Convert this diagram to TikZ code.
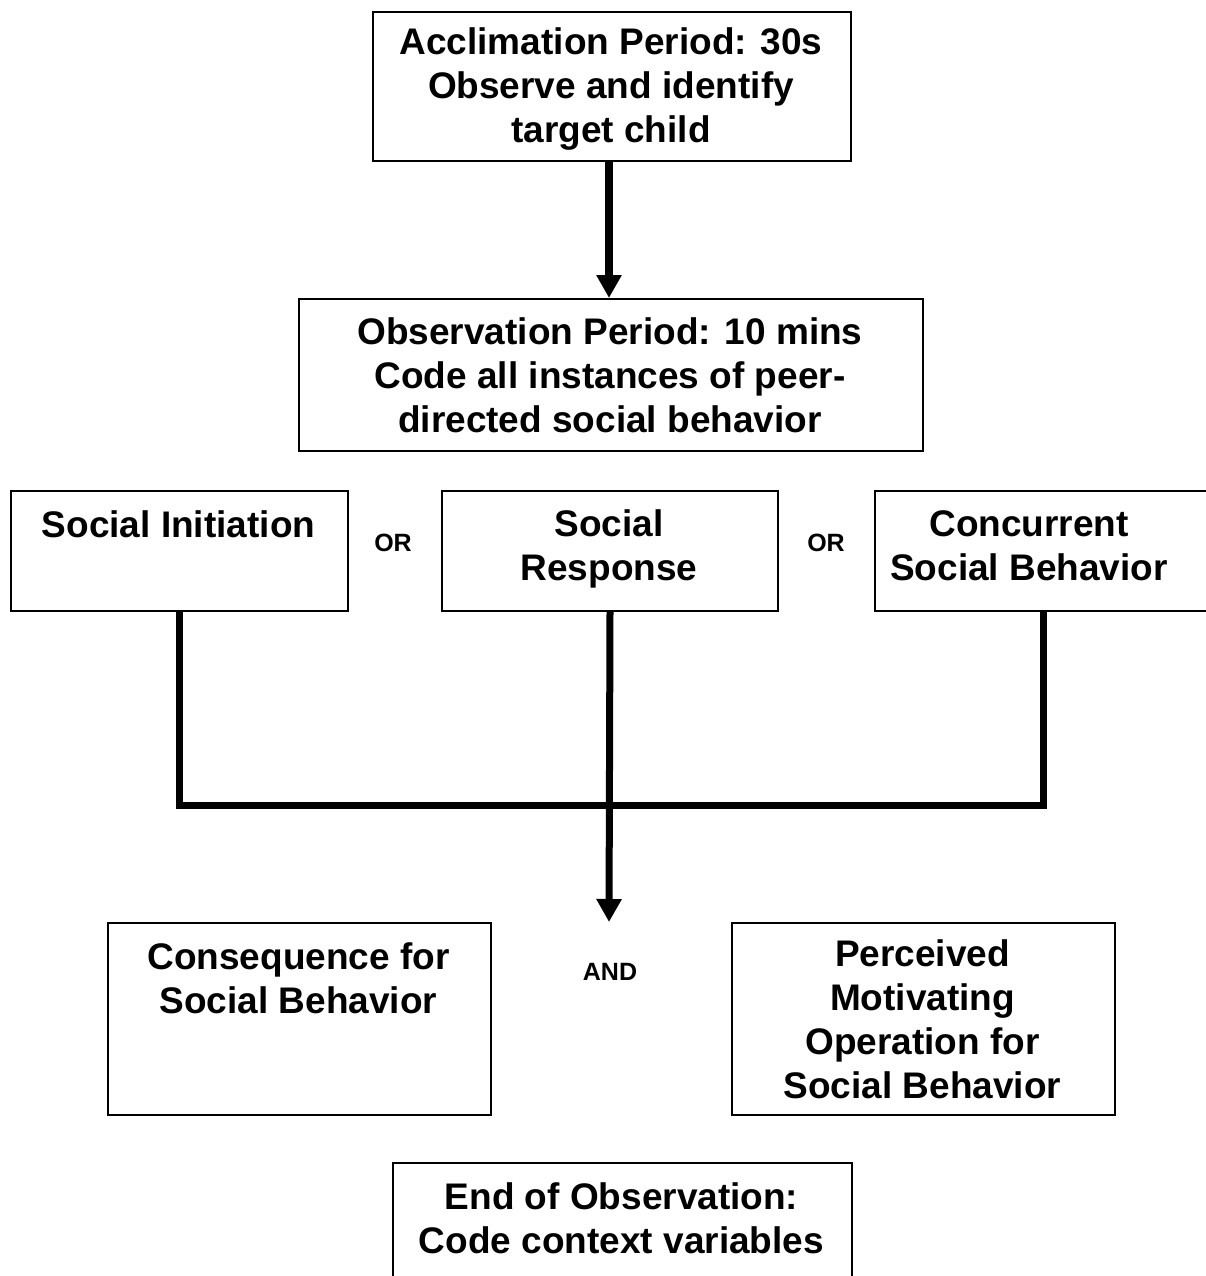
\documentclass[tikz,border=0pt]{standalone}
\usepackage{fontspec}
\setmainfont{Liberation Sans}
\usetikzlibrary{arrows.meta}
\begin{document}
\begin{tikzpicture}[x=1pt,y=-1pt,
  box/.style={draw, line width=2pt, inner sep=0pt, anchor=north west},
  txt/.style={align=center, inner sep=0pt, anchor=base, font=\fontsize{37}{44}\selectfont\bfseries},
  small/.style={inner sep=0pt, font=\fontsize{25}{30}\selectfont\bfseries},
  conn/.style={line width=7pt, line join=miter},
  arr/.style={-{Triangle[width=24pt,length=23pt]}}]
\useasboundingbox (0,0) rectangle (1206,1276);
% boxes
\node[box, minimum width=478pt, minimum height=149pt] (acc) at (372,11) {};
\node[box, minimum width=624pt, minimum height=152pt] (obs) at (298,298) {};
\node[box, minimum width=337pt, minimum height=120pt] (si) at (10,490) {};
\node[box, minimum width=336pt, minimum height=120pt] (sr) at (441,490) {};
\node[box, minimum width=338pt, minimum height=120pt] (csb) at (874,490) {};
\node[box, minimum width=383pt, minimum height=192pt] (cons) at (107,922) {};
\node[box, minimum width=383pt, minimum height=192pt] (perc) at (731,922) {};
\node[box, minimum width=459pt, minimum height=140pt] (endb) at (392,1162) {};
% texts (anchored at the baseline of their last line)
\node[txt] (acct) at (611,143) {Acclimation Period: 30s\\Observe and identify\\target child};
\node[txt] (obst) at (610,432) {Observation Period: 10 mins\\Code all instances of peer-\\directed social behavior};
\node[txt] (sit) at (178.5,537) {Social Initiation};
\node[txt] (srt) at (609,580) {Social\\Response};
\node[txt] (csbt) at (1029,580) {Concurrent\\Social Behavior};
\node[txt] (const) at (298.5,1013) {Consequence for\\Social Behavior};
\node[txt] (perct) at (922.5,1098) {Perceived\\Motivating\\Operation for\\Social Behavior};
\node[txt] (endt) at (621.5,1253) {End of Observation:\\Code context variables};
\node[small] (or1) at (393,543) {OR};
\node[small] (or2) at (826,543) {OR};
\node[small] (and) at (610,972) {AND};
% connectors
\draw[line width=8pt, arr] (acc.south -| 609,0) -- (obs.north -| 609,0);
\coordinate (bar) at (609,805);
\coordinate (join) at (609,922);
\draw[conn] (si.south) |- (bar) -| (csb.south -| 1043,0);
\draw[conn, arr] (sr.south) -- (join);
\end{tikzpicture}
\end{document}
